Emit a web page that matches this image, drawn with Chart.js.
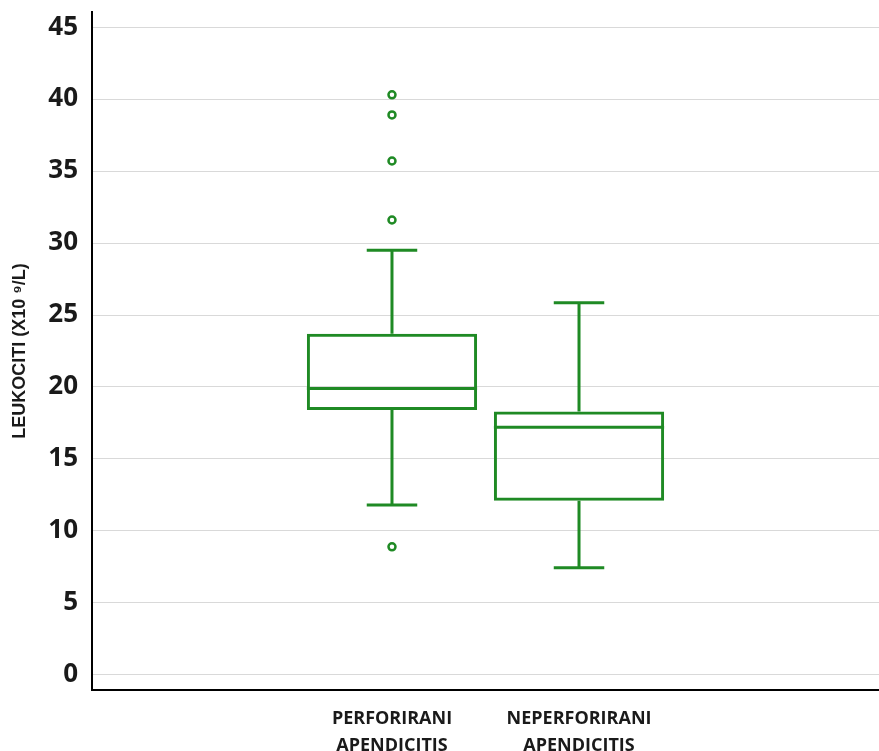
<!DOCTYPE html>
<html lang="en">
<head>
    <meta charset="UTF-8">
    <title>Leukociti - apendicitis</title>
    <script src="https://cdn.jsdelivr.net/npm/chart.js@4.4.1/dist/chart.umd.min.js"></script>
    <style>
        html, body { margin: 0; padding: 0; background: #fff; overflow: hidden; }
        #wrap { width: 879px; height: 751px; }
        canvas { display: block; }
    </style>
</head>
<body>
<div id="wrap">
    <canvas id="boxChart" width="879" height="751"></canvas>
</div>
<script>
// groups (x positions 1 and 2 on the x scale)
const categories = [['PERFORIRANI', 'APENDICITIS'], ['NEPERFORIRANI', 'APENDICITIS']];
const positions = [1, 2];

// box plot values
const whiskerLow = [11.8, 7.45];
const q1 = [18.4, 12.1];
const median = [19.9, 17.2];
const q3 = [23.7, 18.3];
const whiskerHigh = [29.5, 25.85];
const outliers = [[8.9, 31.6, 35.7, 38.9, 40.3], []];

const yTicks = [0, 5, 10, 15, 20, 25, 30, 35, 40, 45];

const green = '#1f8a24';
const boxWidth = 0.91;   // in x units
const capWidth = 0.27;

// whiskers, caps and medians drawn through the chart scales
const whiskerPlugin = {
    id: 'whiskers',
    afterDatasetsDraw(chart) {
        const xs = chart.scales.x, ys = chart.scales.y;
        const ctx = chart.ctx;
        ctx.save();
        ctx.strokeStyle = green;
        ctx.lineWidth = 3;
        ctx.lineCap = 'butt';
        positions.forEach((p, i) => {
            const x = xs.getPixelForValue(p);
            const cl = xs.getPixelForValue(p - capWidth / 2);
            const cr = xs.getPixelForValue(p + capWidth / 2);
            const bl = xs.getPixelForValue(p - boxWidth / 2);
            const br = xs.getPixelForValue(p + boxWidth / 2);
            ctx.beginPath();
            // upper whisker
            ctx.moveTo(x, ys.getPixelForValue(q3[i]));
            ctx.lineTo(x, ys.getPixelForValue(whiskerHigh[i]));
            ctx.moveTo(cl, ys.getPixelForValue(whiskerHigh[i]));
            ctx.lineTo(cr, ys.getPixelForValue(whiskerHigh[i]));
            // lower whisker
            ctx.moveTo(x, ys.getPixelForValue(q1[i]));
            ctx.lineTo(x, ys.getPixelForValue(whiskerLow[i]));
            ctx.moveTo(cl, ys.getPixelForValue(whiskerLow[i]));
            ctx.lineTo(cr, ys.getPixelForValue(whiskerLow[i]));
            // median
            ctx.moveTo(bl, ys.getPixelForValue(median[i]));
            ctx.lineTo(br, ys.getPixelForValue(median[i]));
            ctx.stroke();
        });
        ctx.restore();
    }
};

const boxData = positions.map((p, i) => ({ x: p, y: [q1[i], q3[i]] }));
const outlierData = [];
positions.forEach((p, i) => outliers[i].forEach(v => outlierData.push({ x: p, y: v })));

new Chart(document.getElementById('boxChart'), {
    type: 'bar',
    data: {
        datasets: [
            {
                type: 'bar',
                data: boxData,
                backgroundColor: 'rgba(255,255,255,0)',
                borderColor: green,
                borderWidth: 3,
                borderSkipped: false,
                categoryPercentage: 1,
                barPercentage: boxWidth
            },
            {
                type: 'scatter',
                data: outlierData,
                pointRadius: 3.5,
                pointBorderWidth: 2.5,
                pointBackgroundColor: '#fff',
                pointBorderColor: green
            }
        ]
    },
    options: {
        responsive: false,
        animation: false,
        layout: { autoPadding: false, padding: { top: 12, right: 0, left: 0, bottom: 0 } },
        plugins: {
            legend: { display: false },
            tooltip: { enabled: false }
        },
        scales: {
            x: {
                type: 'linear',
                offset: false,
                min: -0.604,
                max: 3.604,
                grid: { display: false, offset: false },
                border: { display: true, color: '#000', width: 2 },
                afterBuildTicks: (scale) => {
                    scale.ticks = positions.map(v => ({ value: v }));
                },
                afterFit: (scale) => {
                    scale.height = 61;
                    scale.paddingLeft = 0;
                    scale.paddingRight = 0;
                },
                ticks: {
                    autoSkip: false,
                    maxRotation: 0,
                    padding: 7,
                    color: '#1a1a1a',
                    font: { family: 'Open Sans', weight: 'bold', size: 18, lineHeight: 1.5 },
                    callback: (v) => {
                        const i = positions.indexOf(v);
                        return i >= 0 ? categories[i] : '';
                    }
                }
            },
            y: {
                min: -1.05,
                max: 46.05,
                grid: { color: '#d9d9d9', lineWidth: 1, drawTicks: false },
                border: { display: true, color: '#000', width: 2 },
                afterBuildTicks: (scale) => {
                    scale.ticks = yTicks.map(v => ({ value: v }));
                },
                afterFit: (scale) => {
                    scale.width = 92;
                    scale.paddingTop = 0;
                    scale.paddingBottom = 0;
                },
                ticks: {
                    padding: 14,
                    color: '#1a1a1a',
                    font: { family: 'Open Sans', weight: 'bold', size: 26 }
                },
                title: {
                    display: true,
                    text: 'LEUKOCITI (X10 ⁹/L)',
                    color: '#1a1a1a',
                    padding: { top: 9, bottom: 0 },
                    font: { family: 'Liberation Sans', weight: 'bold', size: 18 }
                }
            }
        }
    },
    plugins: [whiskerPlugin]
});
</script>
</body>
</html>
